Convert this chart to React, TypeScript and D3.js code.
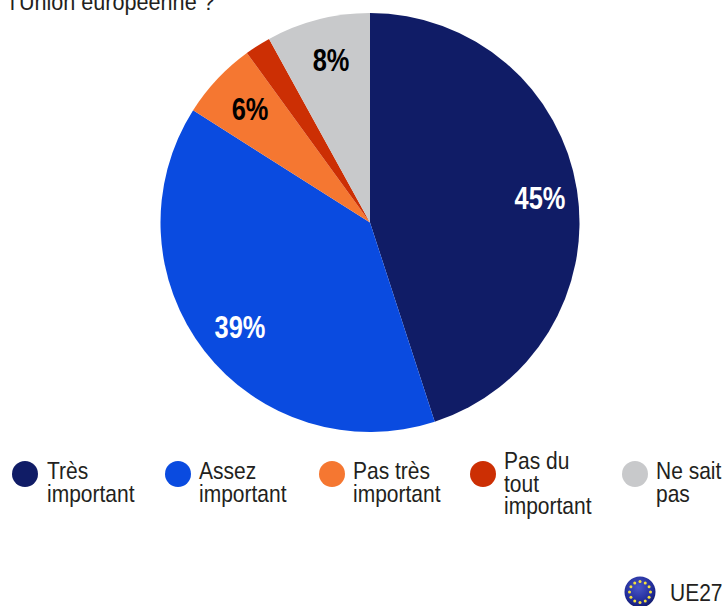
import React from "react";
import * as d3 from "d3";

const categories = ["Très important", "Assez important", "Pas très important", "Pas du tout important", "Ne sait pas"];
const values = [45, 39, 6, 2, 8];
const colors = ["#101c66", "#0a4be0", "#f57731", "#cc2f04", "#c8c9cb"];
const labelColors = ["#ffffff", "#ffffff", "#000000", "", "#000000"];
const legendLines = [["Très", "important"], ["Assez", "important"], ["Pas très", "important"], ["Pas du", "tout", "important"], ["Ne sait", "pas"]];
const legendX = [25, 178, 332, 483, 635];
const legendTextX = [47, 199, 353, 504, 656];
const title = "l'Union européenne ?";
const badge = "UE27";
const starIndexes = d3.range(12);

const FONT = "'Liberation Sans', Arial, sans-serif";

function T({ x, y, children, size = 24, fill = "#231f20", weight = 400, anchor = "start", sx = 0.875 }: any) {
  return (
    <text transform={`translate(${x},${y}) scale(${sx},1)`} fontFamily={FONT} fontSize={size} fontWeight={weight} fill={fill} textAnchor={anchor}>
      {children}
    </text>
  );
}

export default function App() {
  const cx = 370, cy = 222.5, r = 209.5;
  const pie = d3.pie<number>().sort(null)(values);
  const arc = d3.arc<d3.PieArcDatum<number>>().innerRadius(0).outerRadius(r);
  const labelPos: Record<number, [number, number]> = { 0: [540, 198], 1: [240, 327], 2: [250, 109], 4: [331, 60] };
  const lineY = d3.scaleLinear().domain([0, 1]).range([0, 22.5]);
  const starScale = d3.scaleLinear().domain([0, 12]).range([0, Math.PI * 2]);

  return (
    <svg width={724} height={606} style={{ position: "absolute", left: 0, top: 0, background: "#fff" }}>
      <defs>
        <radialGradient id="eu" cx="45%" cy="35%" r="70%">
          <stop offset="0%" stopColor="#4a57c8" />
          <stop offset="70%" stopColor="#1f2a96" />
          <stop offset="100%" stopColor="#10175e" />
        </radialGradient>
      </defs>
      <T x={10} y={10} size={24} sx={0.9}>{title}</T>
      <g transform={`translate(${cx},${cy})`}>
        {pie.map((d, i) => <path key={i} d={arc(d) as string} fill={colors[i]} />)}
      </g>
      {values.map((v, i) => labelColors[i] ? (
        <T key={i} x={labelPos[i][0]} y={labelPos[i][1] + 11} size={31} sx={0.82} weight={700} fill={labelColors[i]} anchor="middle">{v}%</T>
      ) : null)}
      {categories.map((c, i) => {
        const lines = legendLines[i];
        const top = lines.length === 3 ? 469 : 479;
        return (
          <g key={c}>
            <circle cx={legendX[i]} cy={474} r={13} fill={colors[i]} />
            {lines.map((l, j) => <T key={j} x={legendTextX[i]} y={top + lineY(j)}>{l}</T>)}
          </g>
        );
      })}
      <circle cx={640} cy={592} r={15.5} fill="url(#eu)" />
      {starIndexes.map(i => (
        <circle key={i} cx={640 + 10.5 * Math.sin(starScale(i))} cy={592 - 10.5 * Math.cos(starScale(i))} r={1.5} fill="#f5e23c" />
      ))}
      <T x={670} y={601}>{badge}</T>
    </svg>
  );
}
